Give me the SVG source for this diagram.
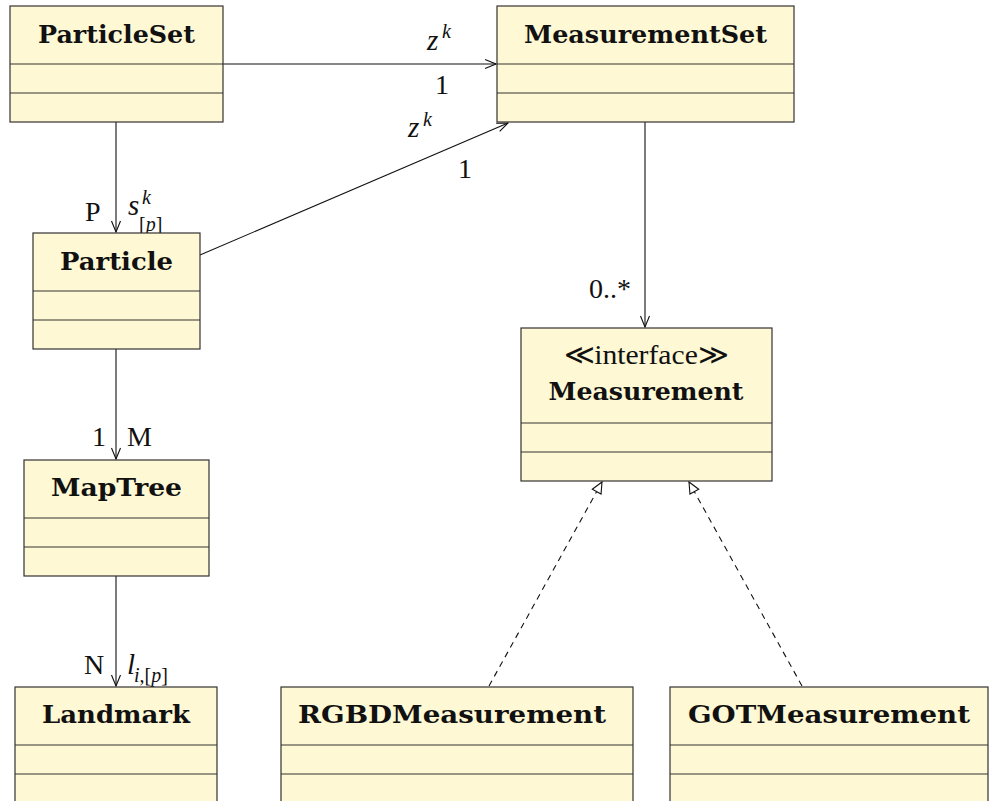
<svg xmlns="http://www.w3.org/2000/svg" width="989" height="801" viewBox="0 0 989 801">
<defs>
<style>
.box{fill:#fef8d4;stroke:#333;stroke-width:1.2}
.sep{stroke:#333;stroke-width:1.2}
.title{font-family:"DejaVu Serif",serif;font-weight:bold;font-size:24px;text-anchor:middle;fill:#111}
.lbl{font-family:"Liberation Serif",serif;font-size:28px;fill:#111}
.mi{font-family:"Liberation Serif",serif;font-style:italic;font-size:29px;fill:#111}
.sub{font-family:"Liberation Serif",serif;font-size:20px;fill:#111}
.subi{font-family:"Liberation Serif",serif;font-style:italic;font-size:20px;fill:#111}
.conn{stroke:#111;stroke-width:1.1;fill:none}
.dash{stroke:#111;stroke-width:1.1;fill:none;stroke-dasharray:6 5}
</style>
<marker id="open" markerUnits="userSpaceOnUse" markerWidth="14" markerHeight="12" viewBox="-13 -6 14 12" refX="0" refY="0" orient="auto">
<path d="M-11,-4.5 L0,0 L-11,4.5" fill="none" stroke="#111" stroke-width="1.1"/>
</marker>
<marker id="tri" markerUnits="userSpaceOnUse" markerWidth="14" markerHeight="14" viewBox="-13 -7 14 14" refX="0" refY="0" orient="auto">
<path d="M-11,-5 L0,0 L-11,5 Z" fill="#fff" stroke="#111" stroke-width="1.1"/>
</marker>
</defs>

<g id="connectors">
<line class="conn" x1="223" y1="64" x2="496" y2="64" marker-end="url(#open)"/>
<line class="conn" x1="116" y1="122" x2="116" y2="232" marker-end="url(#open)"/>
<line class="conn" x1="200" y1="255" x2="508" y2="123" marker-end="url(#open)"/>
<line class="conn" x1="645" y1="122" x2="645" y2="327" marker-end="url(#open)"/>
<line class="conn" x1="116" y1="349" x2="116" y2="459" marker-end="url(#open)"/>
<line class="conn" x1="116" y1="576" x2="116" y2="686" marker-end="url(#open)"/>
<line class="dash" x1="489" y1="686" x2="602" y2="482" marker-end="url(#tri)"/>
<line class="dash" x1="802" y1="686" x2="689" y2="482" marker-end="url(#tri)"/>
<text class="mi" x="427" y="50">z</text><text class="subi" x="442" y="38">k</text>
<text class="lbl" x="442" y="94" text-anchor="middle">1</text>
<text class="mi" x="408" y="137">z</text><text class="subi" x="423" y="126">k</text>
<text class="lbl" x="465" y="178" text-anchor="middle">1</text>
<text class="lbl" x="85" y="221">P</text>
<text class="mi" x="128" y="215">s</text><text class="subi" x="142" y="204">k</text><text class="sub" x="139" y="231">[<tspan font-style="italic">p</tspan>]</text>
<text class="lbl" x="92" y="446">1</text>
<text class="lbl" x="127" y="446">M</text>
<text class="lbl" x="84" y="674">N</text>
<text class="mi" x="127" y="674">l</text><text class="sub" x="134" y="682"><tspan font-style="italic">i</tspan>,[<tspan font-style="italic">p</tspan>]</text>
<text class="lbl" x="589" y="298">0..*</text>
</g>

<g id="ParticleSet">
<rect class="box" x="10" y="6" width="213" height="116"/>
<line class="sep" x1="10" y1="64" x2="223" y2="64"/>
<line class="sep" x1="10" y1="93" x2="223" y2="93"/>
<text class="title" x="116.5" y="43" textLength="157" lengthAdjust="spacingAndGlyphs">ParticleSet</text>
</g>

<g id="MeasurementSet">
<rect class="box" x="497" y="6" width="297" height="116"/>
<line class="sep" x1="497" y1="64" x2="794" y2="64"/>
<line class="sep" x1="497" y1="93" x2="794" y2="93"/>
<text class="title" x="645.5" y="43" textLength="243" lengthAdjust="spacingAndGlyphs">MeasurementSet</text>
</g>

<g id="Particle">
<rect class="box" x="33" y="233" width="167" height="116"/>
<line class="sep" x1="33" y1="291" x2="200" y2="291"/>
<line class="sep" x1="33" y1="320" x2="200" y2="320"/>
<text class="title" x="116.5" y="270" textLength="113" lengthAdjust="spacingAndGlyphs">Particle</text>
</g>

<g id="MapTree">
<rect class="box" x="24" y="460" width="185" height="116"/>
<line class="sep" x1="24" y1="518" x2="209" y2="518"/>
<line class="sep" x1="24" y1="547" x2="209" y2="547"/>
<text class="title" x="116.5" y="496" textLength="131" lengthAdjust="spacingAndGlyphs">MapTree</text>
</g>

<g id="Landmark">
<rect class="box" x="15" y="687" width="202" height="120"/>
<line class="sep" x1="15" y1="745" x2="217" y2="745"/>
<line class="sep" x1="15" y1="774" x2="217" y2="774"/>
<text class="title" x="116" y="723" textLength="148" lengthAdjust="spacingAndGlyphs">Landmark</text>
</g>

<g id="Measurement">
<rect class="box" x="521" y="328" width="251" height="153"/>
<line class="sep" x1="521" y1="423" x2="772" y2="423"/>
<line class="sep" x1="521" y1="452" x2="772" y2="452"/>
<text class="lbl" x="646" y="364" text-anchor="middle" textLength="165" lengthAdjust="spacingAndGlyphs">≪interface≫</text>
<text class="title" x="646" y="400" textLength="195" lengthAdjust="spacingAndGlyphs">Measurement</text>
</g>

<g id="RGBDMeasurement">
<rect class="box" x="281" y="687" width="352" height="120"/>
<line class="sep" x1="281" y1="745" x2="633" y2="745"/>
<line class="sep" x1="281" y1="774" x2="633" y2="774"/>
<text class="title" x="452" y="723" textLength="308" lengthAdjust="spacingAndGlyphs">RGBDMeasurement</text>
</g>

<g id="GOTMeasurement">
<rect class="box" x="670" y="687" width="318" height="120"/>
<line class="sep" x1="670" y1="745" x2="988" y2="745"/>
<line class="sep" x1="670" y1="774" x2="988" y2="774"/>
<text class="title" x="829" y="723" textLength="282" lengthAdjust="spacingAndGlyphs">GOTMeasurement</text>
</g>
</svg>
